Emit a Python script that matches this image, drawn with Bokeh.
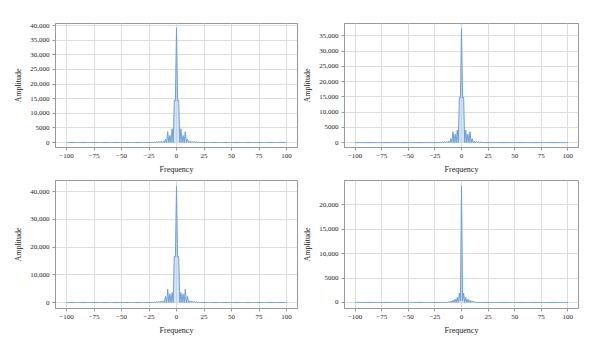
from bokeh.plotting import figure
from bokeh.layouts import gridplot
from bokeh.models import FixedTicker, CustomJSTickFormatter, Range1d
from bokeh.embed import file_html
from bokeh.resources import INLINE

# frequencies -20..20 carry the visible spectrum; outside that range the amplitude is flat at 0
freq_core = list(range(-20, 21))
freq_all = list(range(-100, 101))

amp_p1 = [100, 0, 200, 0, 300, 0, 400, 0, 500, 0,
          1150, 0, 3700, 0, 2400, 0, 4700, 0, 14500, 14300,
          39200,
          14300, 14500, 0, 4700, 0, 2400, 0, 3700, 0, 1150,
          0, 500, 0, 400, 0, 300, 0, 200, 0, 100]
amp_p2 = [100, 0, 200, 0, 300, 0, 400, 0, 500, 0,
          1300, 0, 3600, 0, 2800, 0, 4100, 0, 14900, 14700,
          37400,
          14700, 14900, 0, 4100, 0, 2800, 0, 3600, 0, 1300,
          0, 500, 0, 400, 0, 300, 0, 200, 0, 100]
amp_p3 = [100, 0, 300, 0, 400, 0, 500, 0, 600, 0,
          2200, 0, 4800, 0, 3100, 0, 3600, 0, 16600, 16500,
          42000,
          16500, 16600, 0, 3600, 0, 3100, 0, 4800, 0, 2200,
          0, 600, 0, 500, 0, 400, 0, 300, 0, 100]
amp_p4 = [0, 0, 0, 0, 0, 0, 0, 0, 150, 0,
          300, 0, 450, 0, 650, 0, 1000, 0, 1900, 300,
          23900,
          300, 1900, 0, 1000, 0, 650, 0, 450, 0, 300,
          0, 150, 0, 0, 0, 0, 0, 0, 0, 0]

x_ticks = [-100, -75, -50, -25, 0, 25, 50, 75, 100]
y_ticks_p1 = [0, 5000, 10000, 15000, 20000, 25000, 30000, 35000, 40000]
y_ticks_p2 = [0, 5000, 10000, 15000, 20000, 25000, 30000, 35000]
y_ticks_p3 = [0, 10000, 20000, 30000, 40000]
y_ticks_p4 = [0, 5000, 10000, 15000, 20000]

LINE = "#6a9fdc"
FILL = "#b9d1ef"
FONT = "Liberation Serif"


def full_series(core):
    vals = dict(zip(freq_core, core))
    return [vals.get(f, 0) for f in freq_all]


def panel(core, yticks, yr, borders):
    left, right, top, bottom = borders
    p = figure(width=300, height=176, output_backend="svg", toolbar_location=None,
               x_range=Range1d(-110, 110), y_range=Range1d(*yr),
               min_border_left=left, min_border_right=right,
               min_border_top=top, min_border_bottom=bottom)
    ys = full_series(core)
    p.varea(x=freq_all, y1=0, y2=ys, fill_color=FILL, fill_alpha=0.6)
    p.line(x=freq_all, y=ys, line_color=LINE, line_width=1)

    p.xaxis.ticker = FixedTicker(ticks=x_ticks)
    p.yaxis.ticker = FixedTicker(ticks=yticks)
    p.xaxis.formatter = CustomJSTickFormatter(
        code="return tick < 0 ? '\u2212' + Math.abs(tick) : '' + tick;")
    p.yaxis.formatter = CustomJSTickFormatter(
        code="return Math.abs(tick) >= 10000 ? tick.toLocaleString('en-US') : '' + tick;")
    p.xaxis.axis_label = "Frequency"
    p.yaxis.axis_label = "Amplitude"
    for ax in (p.xaxis, p.yaxis):
        ax.axis_label_text_font = FONT
        ax.axis_label_text_font_style = "normal"
        ax.axis_label_text_font_size = "8px"
        ax.axis_label_text_color = "#222222"
        ax.major_label_text_font = FONT
        ax.major_label_text_font_size = "7px"
        ax.major_label_text_color = "#222222"
        ax.major_label_standoff = 3
        ax.axis_label_standoff = 4
        ax.minor_tick_line_color = None
        ax.major_tick_in = 0
        ax.major_tick_out = 3
        ax.major_tick_line_color = "#999999"
        ax.axis_line_color = "#999999"
    p.xgrid.grid_line_color = "#dddddd"
    p.ygrid.grid_line_color = "#dddddd"
    p.outline_line_color = "#999999"
    p.background_fill_color = "white"
    p.border_fill_color = "white"
    return p


p1 = panel(amp_p1, y_ticks_p1, (-1700, 40700), (55, 3, 23, 28))
p2 = panel(amp_p2, y_ticks_p2, (-1600, 39100), (38, 22, 21, 27))
p3 = panel(amp_p3, y_ticks_p3, (-2150, 44000), (55, 3, 4, 44))
p4 = panel(amp_p4, y_ticks_p4, (-1250, 25000), (38, 22, 2, 44))

grid = gridplot([[p1, p2], [p3, p4]], toolbar_location=None)

with open("out.html", "w") as f:
    f.write(file_html(grid, INLINE))
